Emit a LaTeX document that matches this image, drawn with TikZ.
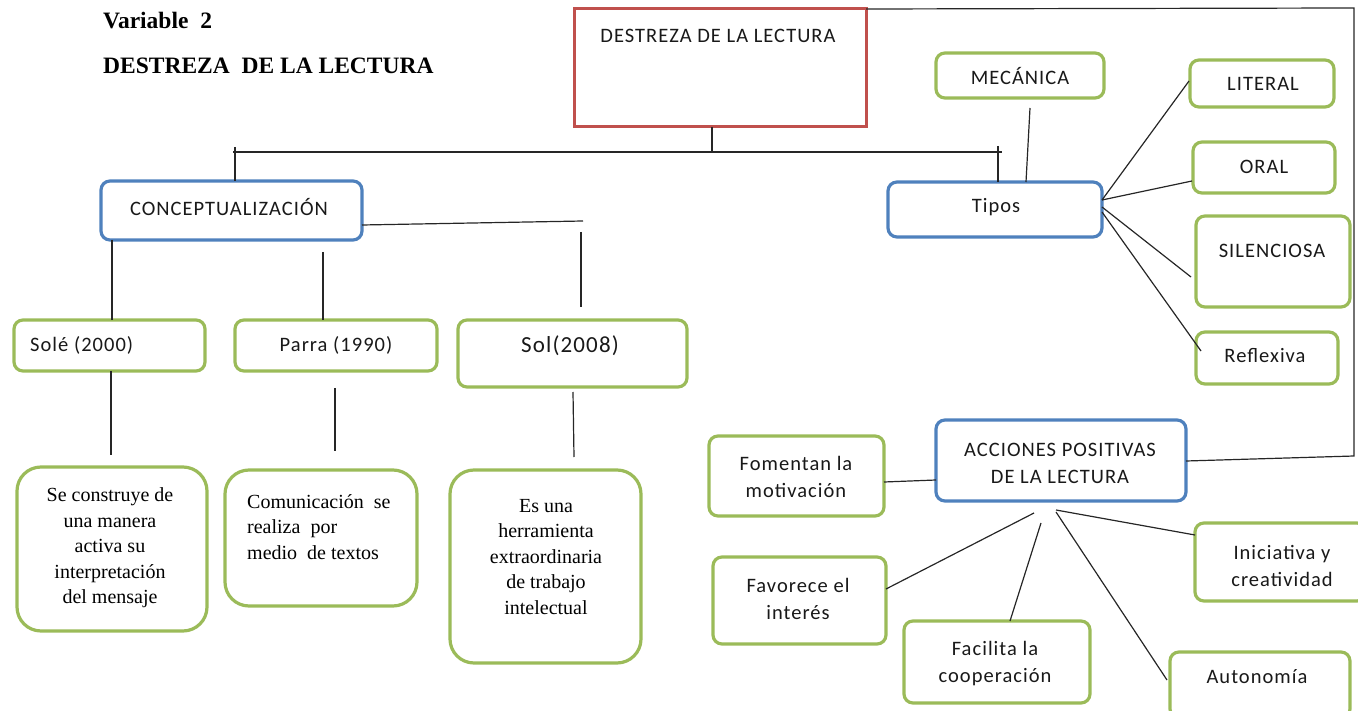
\documentclass[tikz,border=0pt]{standalone}
\usepackage{fontspec}
\setmainfont{Liberation Serif}
\newfontfamily\calfont[LetterSpace=5]{Carlito}
\usetikzlibrary{calc}
\definecolor{gr}{RGB}{155,187,89}
\definecolor{bl}{RGB}{79,129,189}
\definecolor{rd}{RGB}{192,80,77}
\newcommand\mybox[6]{\node[#2, minimum width={(#5-#3)*1pt}, minimum height={(#6-#4)*1pt}] (#1) at ({(#3+#5)/2},{(#4+#6)/2}) {};}
\begin{document}
\begin{tikzpicture}[x=1pt,y=-1pt,
 box/.style={draw=gr, line width=3.2pt, rounded corners=9pt, fill=white, inner sep=0pt, outer sep=0pt},
 bbox/.style={box, draw=bl},
 rbox/.style={draw=rd, line width=3pt, fill=white, inner sep=0pt, outer sep=0pt},
 bigbox/.style={box, rounded corners=24pt},
 ln/.style={draw=black!85, line width=1.2pt},
 ct/.style={font=\calfont\fontsize{20.5}{27}\selectfont, text=black!90, align=center, inner sep=0pt},
 st/.style={font=\fontsize{20}{25.5}\selectfont, align=center, inner sep=0pt}]
\useasboundingbox (0,0) rectangle (1358,711);
% title
\node[anchor=west, font=\bfseries\fontsize{23.5}{28}\selectfont, inner sep=0pt] (t1) at (103,21) {Variable\ \ 2};
\node[anchor=west, font=\bfseries\fontsize{23.5}{28}\selectfont, inner sep=0pt] (t2) at (103,66) {DESTREZA\ \ DE LA LECTURA};
% boxes
\mybox{red}{rbox}{574}{9}{866}{127}
\mybox{conc}{bbox}{101}{181}{362}{240}
\mybox{sole}{box}{14}{320}{205}{371}
\mybox{parra}{box}{235}{320}{437}{371}
\mybox{sol}{box}{458}{320}{687}{387}
\mybox{b1}{bigbox}{17}{467}{207}{631}
\mybox{b2}{bigbox}{225}{470}{417}{606}
\mybox{b3}{bigbox}{450}{470}{641}{663}
\mybox{mec}{box}{936}{53}{1104}{98}
\mybox{tipos}{bbox}{888}{182}{1102}{237}
\mybox{lit}{box}{1190}{60}{1334}{107}
\mybox{oral}{box}{1193}{142}{1335}{193}
\mybox{sil}{box}{1196}{216}{1350}{307}
\mybox{ref}{box}{1196}{332}{1338}{384}
\mybox{acc}{bbox}{936}{420}{1186}{501}
\mybox{fom}{box}{709}{436}{884}{516}
\mybox{fav}{box}{713}{557}{886}{644}
\mybox{fac}{box}{904}{621}{1090}{703}
\mybox{ini}{box}{1195}{523}{1366}{601}
\mybox{aut}{box}{1170}{652}{1350}{718}
% texts
\node[ct] (tred) at (718,36) {DESTREZA DE LA LECTURA};
\node[ct] (tconc) at (229,207) {CONCEPTUALIZACIÓN};
\node[ct, anchor=west] (tsole) at (30,345) {Solé (2000)};
\node[ct] (tparra) at (336,345) {Parra (1990)};
\node[ct, font=\calfont\fontsize{23}{26}\selectfont] (tsol) at (570,346) {Sol(2008)};
\node[st] (tb1) at (110,548) {Se construye de\\una manera\\activa su\\interpretación\\del mensaje};
\node[st, align=left, anchor=north west] (tb2) at (247,494) {Comunicación\ \ se\\realiza\ \ por\\medio\ \ de textos};
\node[st] (tb3) at (546,557) {Es una\\herramienta\\extraordinaria\\de trabajo\\intelectual};
\node[ct] (tmec) at (1020,76) {MECÁNICA};
\node[ct] (ttipos) at (996,207) {Tipos};
\node[ct] (tlit) at (1263,84) {LITERAL};
\node[ct] (toral) at (1264,167) {ORAL};
\node[ct] (tsil) at (1272,251) {SILENCIOSA};
\node[ct] (tref) at (1265,356) {Reflexiva};
\node[ct] (tacc) at (1060,463) {ACCIONES POSITIVAS\\DE LA LECTURA};
\node[ct] (tfom) at (796,477) {Fomentan la\\motivación};
\node[ct] (tfav) at (798,599) {Favorece el\\interés};
\node[ct] (tfac) at (995,664) {Facilita la\\cooperación};
\node[ct] (tini) at (1282,566) {Iniciativa y\\creatividad};
\node[ct] (taut) at (1257,677) {Autonomía};
% connectors
\draw[ln] (red.south -| 712,0) -- (712,152);
\draw[ln] (233,152) -- (1002,152);
\draw[ln] (235,147) -- (conc.north -| 235,0);
\draw[ln] (998,146) -- (tipos.north -| 998,0);
\draw[ln] (conc.east |- 0,225) -- (583,221);
\draw[ln] (581,232) -- (581,307);
\draw[ln] (conc.south -| 112,0) -- (sole.north -| 112,0);
\draw[ln] (323,252) -- (parra.north -| 323,0);
\draw[ln] (sole.south -| 111,0) -- (111,455);
\draw[ln] (335,388) -- (335,451);
\draw[ln] (573,392) -- (574,457);
\draw[ln] (1030,108) -- (tipos.north -| 1026,0);
\draw[ln] (tipos.east |- 0,200) -- (1189,81);
\draw[ln] (tipos.east |- 0,200) -- (1192,181);
\draw[ln] (tipos.east |- 0,207) -- (1191,277);
\draw[ln] (tipos.east |- 0,212) -- (1201,351);
\draw[ln] (red.north east) -- (1352,8) -- (1354,8) -- (1354,456) -- (acc.east |- 0,461);
\draw[ln] (fom.east |- 0,482) -- (acc.west |- 0,480);
\draw[ln] (fav.east |- 0,589) -- (1034,513);
\draw[ln] (fac.north -| 1010,0) -- (1041,523);
\draw[ln] (1056,510) -- (ini.west |- 0,535);
\draw[ln] (1056,512) -- (1167,680);
\end{tikzpicture}
\end{document}
